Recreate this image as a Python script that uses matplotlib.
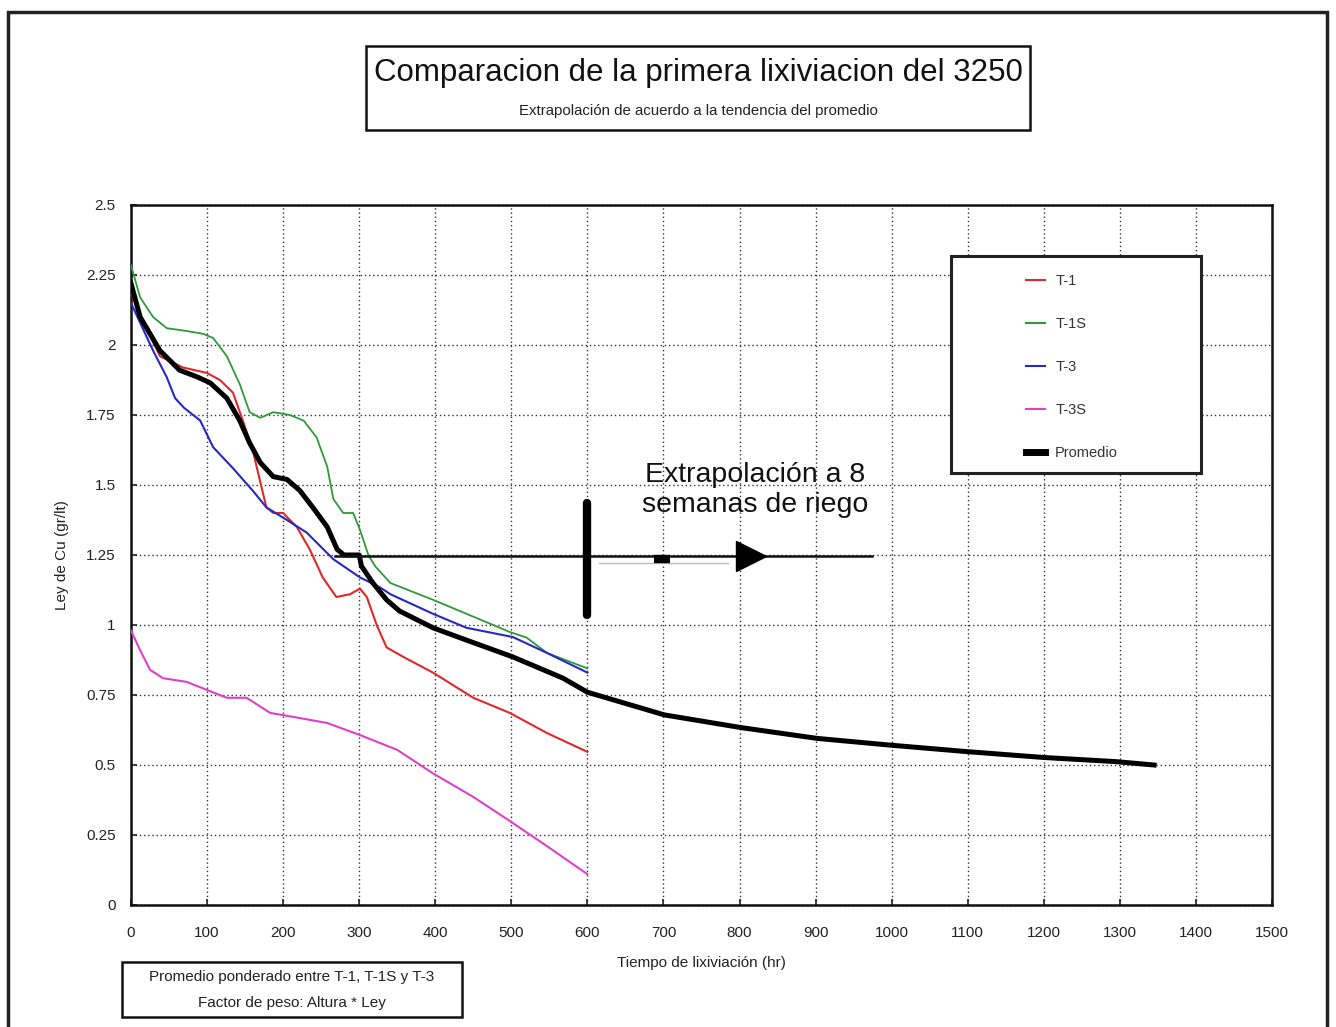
import matplotlib
matplotlib.use("Agg")
import matplotlib.pyplot as plt
from matplotlib.patches import Rectangle
from matplotlib.lines import Line2D

WIDE = ['Liberation Sans', 'DejaVu Sans']
plt.rcParams['font.family'] = WIDE

# ---------------- data ----------------
t1_x = [0, 12, 38, 68, 100, 117, 134, 147, 160, 170, 178, 187, 200, 218, 235, 252, 270, 288, 301, 310, 323, 336, 358, 397, 450, 498, 547, 600]
t1_y = [2.19, 2.11, 1.96, 1.92, 1.90, 1.875, 1.83, 1.73, 1.625, 1.51, 1.42, 1.40, 1.40, 1.35, 1.27, 1.17, 1.10, 1.11, 1.13, 1.10, 1.00, 0.92, 0.886, 0.83, 0.74, 0.686, 0.614, 0.547]

t1s_x = [0, 12, 29, 47, 73, 95, 108, 126, 143, 156, 170, 187, 209, 227, 244, 258, 266, 279, 292, 301, 312, 321, 341, 397, 441, 498, 520, 547, 600]
t1s_y = [2.285, 2.17, 2.10, 2.06, 2.05, 2.04, 2.025, 1.96, 1.86, 1.76, 1.74, 1.76, 1.75, 1.73, 1.67, 1.565, 1.45, 1.40, 1.40, 1.34, 1.25, 1.21, 1.15, 1.09, 1.04, 0.975, 0.955, 0.90, 0.845]

t3_x = [0, 29, 47, 58, 70, 91, 108, 134, 160, 178, 205, 231, 266, 301, 327, 341, 397, 441, 502, 547, 600]
t3_y = [2.15, 1.98, 1.885, 1.81, 1.775, 1.73, 1.635, 1.56, 1.48, 1.42, 1.375, 1.33, 1.235, 1.17, 1.135, 1.11, 1.04, 0.99, 0.957, 0.90, 0.83]

t3s_x = [0, 12, 25, 42, 73, 100, 126, 152, 183, 213, 258, 301, 350, 397, 450, 498, 547, 600]
t3s_y = [0.98, 0.91, 0.84, 0.81, 0.797, 0.768, 0.74, 0.74, 0.686, 0.672, 0.65, 0.607, 0.554, 0.47, 0.386, 0.30, 0.21, 0.11]

prom_x = [0, 12, 38, 64, 87, 104, 126, 143, 156, 170, 187, 205, 222, 239, 258, 271, 280, 300, 303, 318, 336, 353, 397, 441, 502, 568, 600, 701, 801, 902, 998, 1098, 1199, 1295, 1345]
prom_y = [2.22, 2.10, 1.98, 1.91, 1.886, 1.865, 1.81, 1.73, 1.65, 1.58, 1.53, 1.52, 1.48, 1.42, 1.35, 1.27, 1.25, 1.25, 1.21, 1.15, 1.09, 1.05, 0.99, 0.946, 0.886, 0.81, 0.76, 0.679, 0.634, 0.595, 0.571, 0.548, 0.527, 0.512, 0.50]

series_labels = ['T-1', 'T-1S', 'T-3', 'T-3S', 'Promedio']
series_colors = ['#e02828', '#2e9a3a', '#2828c0', '#e040c8', '#000000']

x_ticks = list(range(0, 1501, 100))
y_ticks = [0, 0.25, 0.5, 0.75, 1, 1.25, 1.5, 1.75, 2, 2.25, 2.5]
y_ticklabels = ['0', '0.25', '0.5', '0.75', '1', '1.25', '1.5', '1.75', '2', '2.25', '2.5']

# extrapolation annotation (data units)
extrap_level = 1.245
extrap_start = 268
extrap_end = 974
extrap_bar_x = 600
extrap_bar_span = (1.035, 1.435)
extrap_block = (688, 708)
extrap_arrow_x = 815

W, H = 1336, 1027
fig = plt.figure(figsize=(W / 100, H / 100), dpi=100)
fig.patch.set_facecolor('white')

def fx(px):
    return px / W

def fy(py):
    return 1 - py / H

ax = fig.add_axes([fx(131), fy(905), fx(1272) - fx(131), fy(205) - fy(905)])
ax.set_xlim(0, 1500)
ax.set_ylim(0, 2.5)
ax.set_xticks(x_ticks)
ax.set_yticks(y_ticks)
ax.set_yticklabels(y_ticklabels)
ax.grid(True, color='#333333', linestyle=(0, (1, 2)), linewidth=1.0)
ax.set_axisbelow(True)
ax.tick_params(direction='in', length=4, width=1.2, labelsize=11, colors='#222222')
ax.tick_params(axis='x', pad=15)
ax.tick_params(axis='y', pad=11)
for s in ax.spines.values():
    s.set_linewidth(1.8)
    s.set_color('#111111')

ax.plot(t1s_x, t1s_y, color=series_colors[1], lw=1.3, zorder=3)
ax.plot(t1_x, t1_y, color=series_colors[0], lw=1.5, zorder=3)
ax.plot(t3_x, t3_y, color=series_colors[2], lw=1.5, zorder=3)
ax.plot(t3s_x, t3s_y, color=series_colors[3], lw=1.5, zorder=3)
ax.plot(prom_x, prom_y, color=series_colors[4], lw=3.6, zorder=4)

# extrapolation marks
ax.plot([extrap_start, extrap_end], [extrap_level, extrap_level], color='#111111', lw=1.8, zorder=5)
ax.plot([615, 785], [extrap_level - 0.025, extrap_level - 0.025], color='#bbbbbb', lw=1.0, zorder=5)
ax.plot([extrap_bar_x, extrap_bar_x], list(extrap_bar_span), color='black', lw=6,
        solid_capstyle='round', zorder=6)
ax.plot(list(extrap_block), [extrap_level - 0.01, extrap_level - 0.01], color='black', lw=6,
        solid_capstyle='butt', zorder=6)
ax.plot([extrap_arrow_x], [extrap_level], marker='>', markersize=22, color='black', zorder=6)
ax.text(820, 1.482, 'Extrapolación a 8\nsemanas de riego', ha='center', va='center',
        fontsize=20.5, color='#111111', linespacing=1.2, zorder=7)

ax.set_xlabel('Tiempo de lixiviación (hr)', fontsize=11, color='#222222', labelpad=12)
ax.set_ylabel('Ley de Cu (gr/lt)', fontsize=11, color='#222222', labelpad=12)

# outer frame
fig.add_artist(Rectangle((fx(8), fy(1030)), fx(1327) - fx(8), fy(12) - fy(1030),
                         transform=fig.transFigure, fill=False, lw=2.5, edgecolor='#222222'))

# title box
fig.add_artist(Rectangle((fx(366), fy(130)), fx(1030) - fx(366), fy(46) - fy(130),
                         transform=fig.transFigure, facecolor='white', lw=1.8, edgecolor='#111111'))
fig.text(fx(698), fy(73), 'Comparacion de la primera lixiviacion del 3250', ha='center', va='center',
         fontsize=22.5, color='#111111')
fig.text(fx(698), fy(111), 'Extrapolación de acuerdo a la tendencia del promedio', ha='center', va='center',
         fontsize=10.8, color='#222222')

# legend box
fig.add_artist(Rectangle((fx(951), fy(473)), fx(1201) - fx(951), fy(256) - fy(473),
                         transform=fig.transFigure, facecolor='white', lw=2.2, edgecolor='#222222', zorder=3))
handles = [Line2D([], [], color=series_colors[i], lw=1.5) for i in range(4)]
handles.append(Line2D([], [], color='black', lw=5))
leg = fig.legend(handles, series_labels, loc='center', bbox_to_anchor=(fx(1072), fy(367)),
                 frameon=False, fontsize=10.5, handlelength=1.3, handletextpad=0.7,
                 labelspacing=2.0, borderpad=0)
leg.set_zorder(4)
for t in leg.get_texts():
    t.set_color('#333333')

# note box
fig.add_artist(Rectangle((fx(122), fy(1017)), fx(462) - fx(122), fy(962) - fy(1017),
                         transform=fig.transFigure, facecolor='white', lw=1.8, edgecolor='#111111'))
fig.text(fx(292), fy(977), 'Promedio ponderado entre T-1, T-1S y T-3', ha='center', va='center',
         fontsize=11, color='#222222')
fig.text(fx(292), fy(1003), 'Factor de peso: Altura * Ley', ha='center', va='center',
         fontsize=11, color='#222222')

fig.savefig('out.png', dpi=100, facecolor='white')
